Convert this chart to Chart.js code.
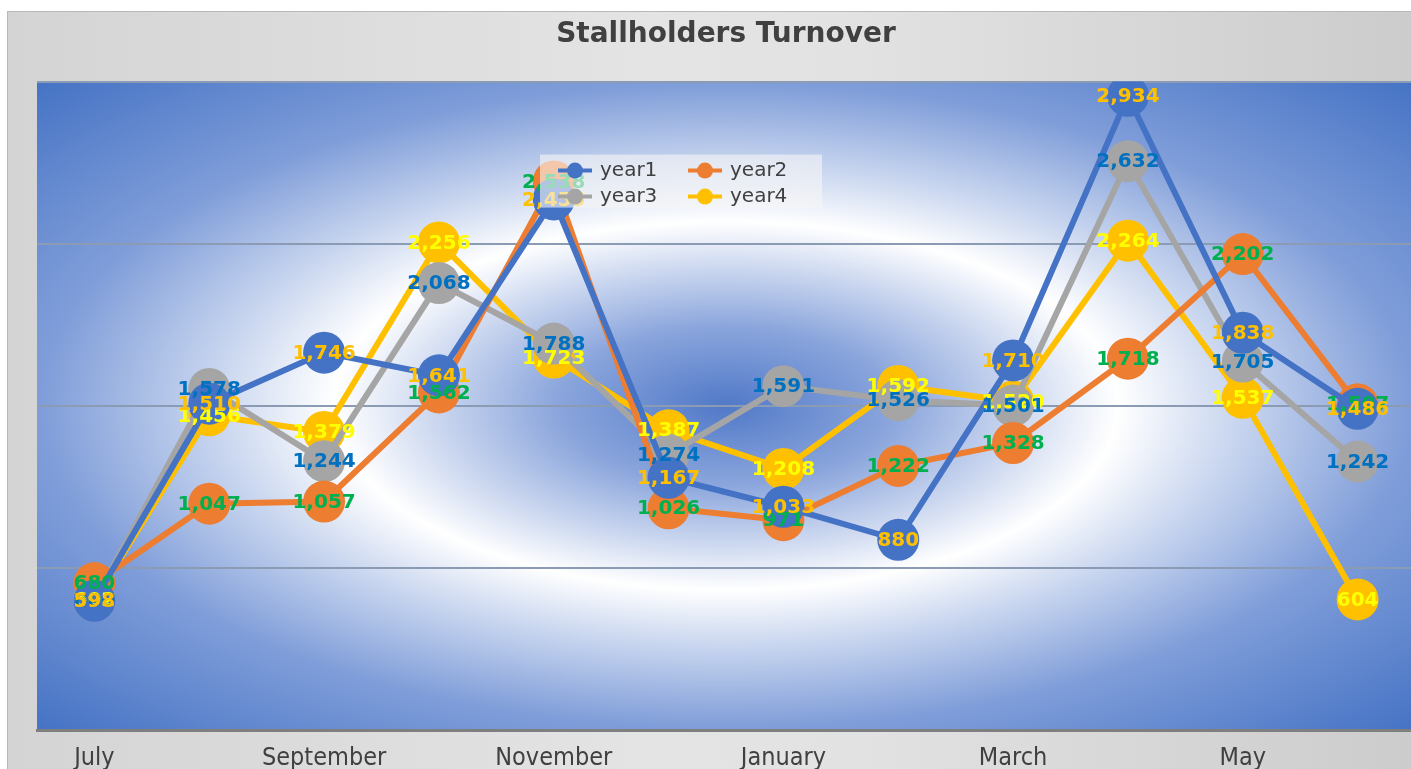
<!DOCTYPE html>
<html>
<head>
<meta charset="utf-8">
<title>Stallholders Turnover</title>
<script src="https://cdn.jsdelivr.net/npm/chart.js@4.4.0/dist/chart.umd.min.js"></script>
<style>
  html, body { margin: 0; padding: 0; background: #fff; overflow: hidden; }
  #frame {
    position: absolute; left: 7px; top: 11px;
    width: 1428px; height: 770px;
    border-top: 1px solid #b8b8b8; border-left: 1px solid #b8b8b8;
    background: linear-gradient(to right, #d4d4d4 0%, #e4e4e4 45%, #e2e2e2 60%, #cbcbcb 100%);
  }
  canvas { display: block; }
</style>
</head>
<body>
<div id="frame"><canvas id="chart" width="1428" height="770"></canvas></div>
<script>
// DATA
const months = ['July', 'August', 'September', 'October', 'November', 'December',
                'January', 'February', 'March', 'April', 'May', 'June'];
const year1 = [598, 1510, 1746, 1641, 2455, 1167, 1033, 880, 1710, 2934, 1838, 1486];
const year2 = [680, 1047, 1057, 1562, 2538, 1026, 971, 1222, 1328, 1718, 2202, 1507];
const year3 = [600, 1578, 1244, 2068, 1788, 1274, 1591, 1526, 1501, 2632, 1705, 1242];
const year4 = [602, 1456, 1379, 2256, 1723, 1387, 1208, 1592, 1520, 2264, 1537, 604];
const yTicks = [0, 750, 1500, 2250, 3000];

// STYLE
const lineColors = ['#4472C4', '#ED7D31', '#A5A5A5', '#FFC000'];
const labelColors = ['#FFC000', '#00B050', '#0070C0', '#FFFF00'];
const FONT = "'DejaVu Sans', Verdana, sans-serif";

function series(name, values, i) {
    return {
        label: name,
        data: values,
        borderColor: lineColors[i],
        backgroundColor: lineColors[i],
        borderWidth: 6,
        pointRadius: 21,
        pointHoverRadius: 21,
        pointBorderWidth: 0,
        tension: 0
    };
}

// --- plot area background (radial blue / white / blue) ---
const bgPlugin = {
    id: 'plotBg',
    beforeDraw(chart) {
        const { ctx, chartArea: a } = chart;
        const cx = (a.left + a.right) / 2, cy = (a.top + a.bottom) / 2;
        const hw = (a.right - a.left) / 2, hh = (a.bottom - a.top) / 2;
        ctx.save();
        ctx.beginPath();
        ctx.rect(a.left, a.top, a.right - a.left, a.bottom - a.top);
        ctx.clip();
        ctx.translate(cx, cy);
        ctx.scale(hw, hh);
        const g = ctx.createRadialGradient(0, 0, 0, 0, 0, 1.42);
        g.addColorStop(0.0, '#5179c8');
        g.addColorStop(0.17, '#8aa5dc');
        g.addColorStop(0.40, '#ffffff');
        g.addColorStop(0.53, '#c5d3ee');
        g.addColorStop(0.70, '#7f9dd9');
        g.addColorStop(1.0, '#4472c4');
        ctx.fillStyle = g;
        ctx.fillRect(-1, -1, 2, 2);
        ctx.restore();
    }
};

// --- centred value labels (last series first, so year1 ends up on top) ---
const labelPlugin = {
    id: 'valueLabels',
    afterDatasetsDraw(chart) {
        const ctx = chart.ctx;
        ctx.save();
        ctx.font = 'bold 20px ' + FONT;
        ctx.textAlign = 'center';
        ctx.textBaseline = 'middle';
        for (let i = chart.data.datasets.length - 1; i >= 0; i--) {
            const ds = chart.data.datasets[i];
            const meta = chart.getDatasetMeta(i);
            ctx.fillStyle = labelColors[i];
            meta.data.forEach((pt, j) => {
                ctx.fillText(ds.data[j].toLocaleString('en-US'), pt.x, pt.y + 1);
            });
        }
        ctx.restore();
    }
};

// --- legend box inside the plot ---
const legendPlugin = {
    id: 'innerLegend',
    afterDraw(chart) {
        const { ctx, chartArea: a } = chart;
        const x0 = a.left + 503, y0 = a.top + 73;
        ctx.save();
        ctx.fillStyle = 'rgba(245,245,245,0.62)';
        ctx.fillRect(x0, y0, 282, 53);
        ctx.font = '20px ' + FONT;
        ctx.textBaseline = 'middle';
        chart.data.datasets.forEach((ds, i) => {
            const col = i % 2, row = Math.floor(i / 2);
            const mx = x0 + 35 + col * 130, my = y0 + 16 + row * 26;
            ctx.strokeStyle = lineColors[i];
            ctx.lineWidth = 4;
            ctx.beginPath();
            ctx.moveTo(mx - 17, my);
            ctx.lineTo(mx + 17, my);
            ctx.stroke();
            ctx.fillStyle = lineColors[i];
            ctx.beginPath();
            ctx.arc(mx, my, 8, 0, Math.PI * 2);
            ctx.fill();
            ctx.fillStyle = '#404040';
            ctx.fillText(ds.label, mx + 25, my);
        });
        ctx.restore();
    }
};

new Chart(document.getElementById('chart'), {
    type: 'line',
    data: {
        labels: months,
        datasets: [
            series('year1', year1, 0),
            series('year2', year2, 1),
            series('year3', year3, 2),
            series('year4', year4, 3)
        ]
    },
    options: {
        responsive: false,
        animation: false,
        layout: { padding: { left: 29, right: 3, top: 0, bottom: 0 } },
        plugins: {
            legend: { display: false },
            tooltip: { enabled: false },
            title: {
                display: true,
                fullSize: false,
                text: 'Stallholders Turnover',
                color: '#404040',
                font: { family: FONT, size: 28, weight: 'bold' },
                padding: { top: 6, bottom: 30 }
            }
        },
        scales: {
            x: {
                offset: true,
                afterFit: s => { s.height = 52; s.paddingLeft = 0; s.paddingRight = 0; },
                grid: { display: false, drawTicks: false },
                border: { display: true, color: '#7f7f7f', width: 3 },
                ticks: {
                    autoSkip: false,
                    maxRotation: 0,
                    padding: 13,
                    color: '#404040',
                    font: { family: "'DejaVu Sans Condensed', 'Liberation Sans Narrow', 'DejaVu Sans', sans-serif", size: 25 },
                    callback: function (v, i) { return i % 2 === 0 ? this.getLabelForValue(v) : ''; }
                }
            },
            y: {
                min: 0,
                max: 3000,
                afterFit: s => { s.width = 0; },
                afterBuildTicks: s => { s.ticks = yTicks.map(v => ({ value: v })); },
                grid: { color: '#8a9bb3', lineWidth: 2, drawTicks: false },
                border: { display: false },
                ticks: { display: false }
            }
        }
    },
    plugins: [bgPlugin, labelPlugin, legendPlugin]
});
</script>
</body>
</html>
